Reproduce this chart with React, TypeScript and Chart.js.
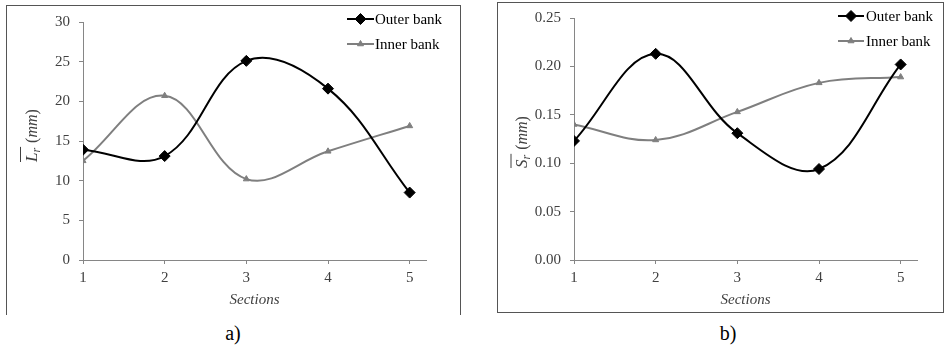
import React, { useEffect, useRef } from 'react';
import { Chart, registerables } from 'chart.js';
import { drawPoint } from 'chart.js/helpers';

Chart.register(...registerables);

// ---------- data ----------
const sections = [1, 2, 3, 4, 5];
const seriesNames = ['Outer bank', 'Inner bank'];
const outerLr = [13.9, 13.1, 25.1, 21.6, 8.5];
const innerLr = [12.5, 20.7, 10.2, 13.7, 16.9];
const outerSr = [0.123, 0.213, 0.131, 0.094, 0.202];
const innerSr = [0.14, 0.124, 0.153, 0.183, 0.189];
const lrTicks = [0, 5, 10, 15, 20, 25, 30];
const srTicks = [0, 0.05, 0.1, 0.15, 0.2, 0.25];
const xTitle = 'Sections';
const lrTitle = { main: 'L', sub: 'r', unit: 'mm' };
const srTitle = { main: 'S', sub: 'r', unit: 'mm' };
const panelLabels = ['a)', 'b)'];

// ---------- styles ----------
const SERIF = '"Liberation Serif", "Times New Roman", serif';
const OUTER_COLOR = '#000000';
const INNER_COLOR = '#7f7f7f';
const AXIS_COLOR = '#868686';
const TEXT_COLOR = '#404040';
const BORDER_COLOR = '#555555';

const yTitlePlugin = {
  id: 'yTitleCustom',
  afterDraw(chart: any, _args: any, opts: any) {
    const ctx = chart.ctx;
    ctx.save();
    ctx.translate(opts.x, opts.y);
    ctx.rotate(-Math.PI / 2);
    ctx.fillStyle = TEXT_COLOR;
    ctx.strokeStyle = TEXT_COLOR;
    ctx.textBaseline = 'alphabetic';
    ctx.textAlign = 'left';
    let x = 0;
    ctx.font = `italic 17px ${SERIF}`;
    ctx.fillText(opts.title.main, x, 0);
    x += ctx.measureText(opts.title.main).width;
    ctx.font = `italic 12px ${SERIF}`;
    ctx.fillText(opts.title.sub, x, 3);
    x += ctx.measureText(opts.title.sub).width + 1;
    ctx.lineWidth = 1;
    ctx.beginPath();
    ctx.moveTo(0, -16);
    ctx.lineTo(x, -16);
    ctx.stroke();
    x += 4;
    ctx.font = `16px ${SERIF}`;
    ctx.fillText('(', x, 0);
    x += ctx.measureText('(').width;
    ctx.font = `italic 16px ${SERIF}`;
    ctx.fillText(opts.title.unit, x, 0);
    x += ctx.measureText(opts.title.unit).width;
    ctx.font = `16px ${SERIF}`;
    ctx.fillText(')', x, 0);
    ctx.restore();
  },
};

const legendPlugin = {
  id: 'legendCustom',
  afterDraw(chart: any, _args: any, opts: any) {
    const ctx = chart.ctx;
    chart.data.datasets.forEach((ds: any, i: number) => {
      const y = opts.ys[i];
      ctx.save();
      ctx.strokeStyle = ds.borderColor;
      ctx.lineWidth = ds.borderWidth;
      ctx.beginPath();
      ctx.moveTo(opts.x0, y);
      ctx.lineTo(opts.x1, y);
      ctx.stroke();
      ctx.fillStyle = ds.pointBackgroundColor;
      ctx.strokeStyle = ds.pointBorderColor;
      ctx.lineWidth = 1;
      drawPoint(ctx, { pointStyle: ds.pointStyle, radius: ds.pointRadius, rotation: 0, borderWidth: 1 }, (opts.x0 + opts.x1) / 2, y);
      ctx.fillStyle = '#000';
      ctx.font = `15px ${SERIF}`;
      ctx.textBaseline = 'middle';
      ctx.textAlign = 'left';
      ctx.fillText(ds.label, opts.textX, y + 1);
      ctx.restore();
    });
  },
};

type Area = { left: number; top: number; right: number; bottom: number };

type PanelProps = {
  left: number;
  width: number;
  height: number;
  area: Area;
  outer: number[];
  inner: number[];
  yTicks: number[];
  decimals: number;
  title: { main: string; sub: string; unit: string };
  titlePos: { x: number; y: number };
  legend: { x0: number; x1: number; textX: number; ys: number[] };
};

function ChartPanel(p: PanelProps) {
  const ref = useRef<HTMLCanvasElement | null>(null);
  useEffect(() => {
    if (!ref.current) return;
    const tickFont = { family: SERIF, size: 15 };
    const chart = new Chart(ref.current, {
      type: 'line',
      data: {
        datasets: [
          {
            label: seriesNames[0],
            data: sections.map((s, i) => ({ x: s, y: p.outer[i] })),
            borderColor: OUTER_COLOR,
            backgroundColor: OUTER_COLOR,
            pointBackgroundColor: OUTER_COLOR,
            pointBorderColor: OUTER_COLOR,
            borderWidth: 2,
            pointStyle: 'rectRot',
            pointRadius: 5.5,
            pointBorderWidth: 1,
            tension: 0.38,
            fill: false,
          },
          {
            label: seriesNames[1],
            data: sections.map((s, i) => ({ x: s, y: p.inner[i] })),
            borderColor: INNER_COLOR,
            backgroundColor: INNER_COLOR,
            pointBackgroundColor: INNER_COLOR,
            pointBorderColor: INNER_COLOR,
            borderWidth: 2,
            pointStyle: 'triangle',
            pointRadius: 3.5,
            pointBorderWidth: 1,
            tension: 0.38,
            fill: false,
          },
        ],
      } as any,
      options: {
        animation: false,
        responsive: false,
        devicePixelRatio: 1,
        events: [],
        layout: {
          autoPadding: false,
          padding: { left: 0, top: p.area.top, right: p.width - p.area.right, bottom: 0 },
        },
        plugins: {
          legend: { display: false },
          tooltip: { enabled: false },
          yTitleCustom: { x: p.titlePos.x, y: p.titlePos.y, title: p.title },
          legendCustom: p.legend,
        } as any,
        scales: {
          x: {
            type: 'linear',
            min: 1,
            max: 5.2,
            afterBuildTicks: (s: any) => {
              s.ticks = sections.map((v) => ({ value: v }));
            },
            afterFit: (s: any) => {
              s.height = p.height - p.area.bottom;
            },
            ticks: {
              font: tickFont,
              color: TEXT_COLOR,
              padding: 5,
              maxRotation: 0,
              callback: (v: any) => String(v),
            },
            grid: { drawOnChartArea: false, drawTicks: true, tickLength: 4, color: AXIS_COLOR },
            border: { color: AXIS_COLOR, width: 1 },
            title: {
              display: true,
              text: xTitle,
              color: TEXT_COLOR,
              font: { family: SERIF, size: 15, style: 'italic' },
              padding: { top: 0, bottom: 3 },
            },
          },
          y: {
            type: 'linear',
            min: p.yTicks[0],
            max: p.yTicks[p.yTicks.length - 1],
            afterBuildTicks: (s: any) => {
              s.ticks = p.yTicks.map((v) => ({ value: v }));
            },
            afterFit: (s: any) => {
              s.width = p.area.left;
            },
            ticks: {
              font: tickFont,
              color: TEXT_COLOR,
              padding: 9,
              callback: (v: any) => Number(v).toFixed(p.decimals),
            },
            grid: { drawOnChartArea: false, drawTicks: true, tickLength: 4, color: AXIS_COLOR },
            border: { color: AXIS_COLOR, width: 1 },
          },
        },
      } as any,
      plugins: [yTitlePlugin, legendPlugin] as any,
    });
    return () => chart.destroy();
  }, []);
  return (
    <canvas
      ref={ref}
      width={p.width}
      height={p.height}
      style={{ position: 'absolute', left: p.left, top: 0, width: p.width, height: p.height }}
    />
  );
}

export default function App() {
  return (
    <div style={{ position: 'fixed', left: 0, top: 0, width: 944, height: 345, background: '#fff', overflow: 'hidden' }}>
      <div
        style={{
          position: 'absolute', left: 6, top: 5, width: 455, height: 310, boxSizing: 'border-box',
          borderTop: `1px solid ${BORDER_COLOR}`, borderLeft: `1px solid ${BORDER_COLOR}`, borderRight: `1px solid ${BORDER_COLOR}`,
        }}
      />
      <div
        style={{
          position: 'absolute', left: 497, top: 2, width: 447, height: 311, boxSizing: 'border-box',
          border: `1px solid ${BORDER_COLOR}`,
        }}
      />
      <ChartPanel
        left={0}
        width={470}
        height={312}
        area={{ left: 83, top: 22, right: 426, bottom: 260 }}
        outer={outerLr}
        inner={innerLr}
        yTicks={lrTicks}
        decimals={0}
        title={lrTitle}
        titlePos={{ x: 36.5, y: 162 }}
        legend={{ x0: 347, x1: 374, textX: 375, ys: [19, 44] }}
      />
      <ChartPanel
        left={470}
        width={474}
        height={312}
        area={{ left: 104, top: 17, right: 447, bottom: 260 }}
        outer={outerSr}
        inner={innerSr}
        yTicks={srTicks}
        decimals={2}
        title={srTitle}
        titlePos={{ x: 57, y: 168 }}
        legend={{ x0: 368, x1: 394, textX: 396, ys: [16, 41] }}
      />
      <div style={{ position: 'absolute', left: 183, width: 100, top: 322, lineHeight: '22px', fontSize: 20, fontFamily: SERIF, textAlign: 'center', color: '#000' }}>
        {panelLabels[0]}
      </div>
      <div style={{ position: 'absolute', left: 678, width: 100, top: 322, lineHeight: '22px', fontSize: 20, fontFamily: SERIF, textAlign: 'center', color: '#000' }}>
        {panelLabels[1]}
      </div>
    </div>
  );
}
